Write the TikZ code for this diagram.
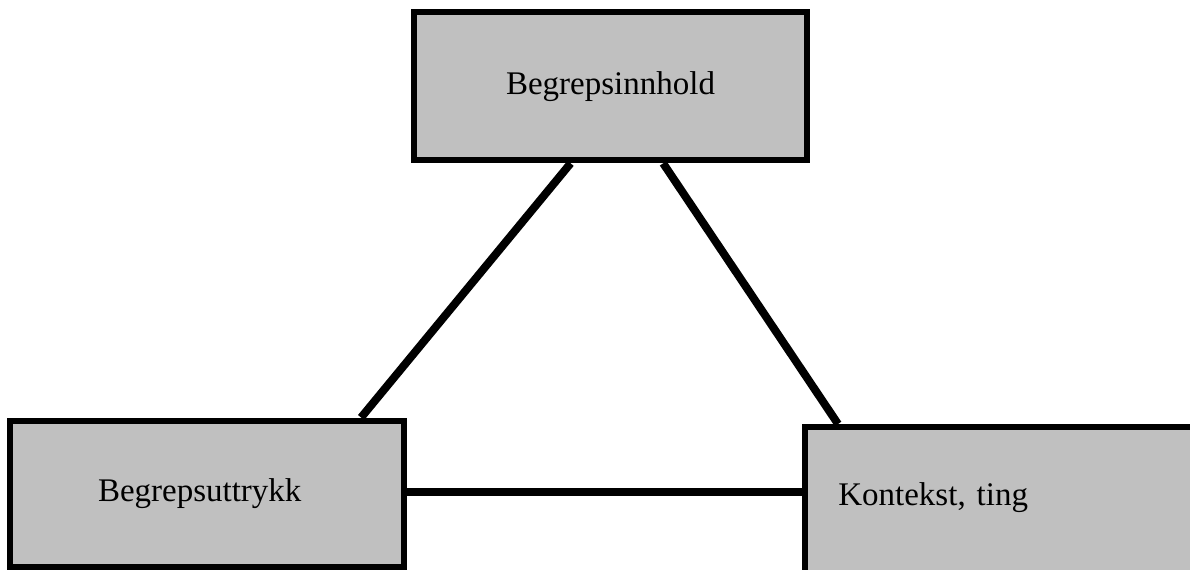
\documentclass[tikz,border=0pt]{standalone}
\usepackage{fontspec}
\setmainfont{Liberation Serif}
\usetikzlibrary{calc}
\definecolor{boxgray}{RGB}{192,192,192}

\begin{document}
\begin{tikzpicture}[x=0.75pt,y=-0.75pt,
    begrep/.style={draw, fill=boxgray, line width=4.5pt, inner sep=0pt,
      font=\fontsize{24.75}{30}\selectfont},
    kant/.style={line width=6pt}]
  \useasboundingbox (0,0) rectangle (1190,570);
  \node [begrep, minimum width=294.75pt, minimum height=111.2pt, text depth=0.49em] (innhold) at (610.5,86.2) {Begrepsinnhold};
  \node [begrep, minimum width=295.7pt, minimum height=109.9pt,
    inner xsep=66pt, text width=163.5pt, align=left] (uttrykk) at (207,493.8) {Begrepsuttrykk};
  \node [begrep, anchor=north west, minimum width=375pt, minimum height=117pt,
    inner xsep=25pt, text width=325pt, align=left, text height=0.6em, text depth=0.6em] (ting) at (802,424) {Kontekst, ting};
  \draw [kant] ($(innhold.south west)!0.40!(innhold.south east)$) -- ($(uttrykk.north west)!0.885!(uttrykk.north east)$);
  \draw [kant] ($(innhold.south west)!0.632!(innhold.south east)$) -- ($(ting.north west)+(36,0)$);
  \draw [kant, line cap=round] ($(uttrykk.east)+(0,-2)$) -- ($(ting.west |- uttrykk.east)+(0,-2)$);
\end{tikzpicture}
\end{document}
